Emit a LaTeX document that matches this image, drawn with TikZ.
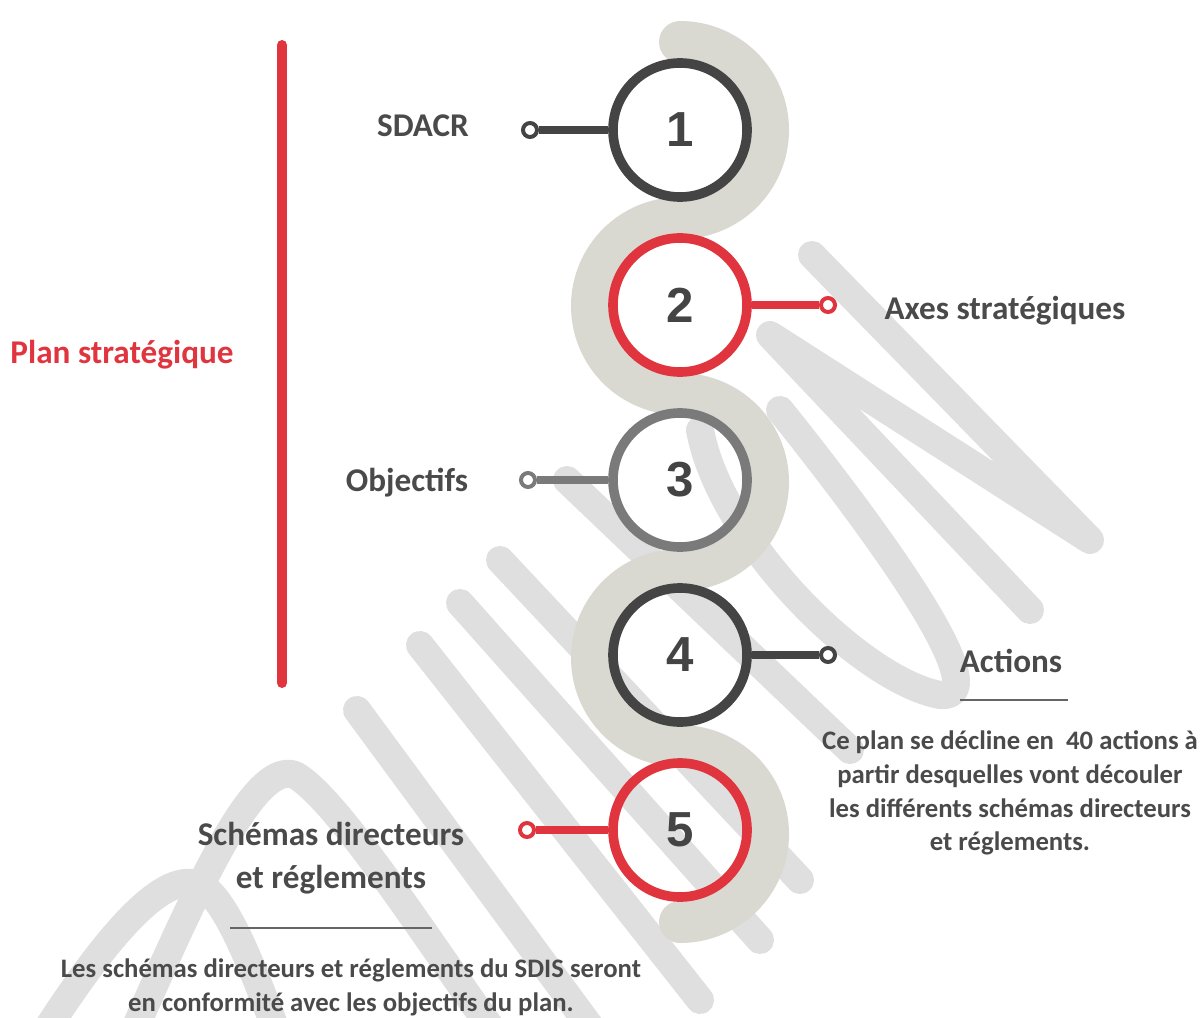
\documentclass[tikz,border=0pt]{standalone}
\usepackage{fontspec}
\setmainfont{Carlito}
\newfontfamily\numfont{Liberation Sans}
\usetikzlibrary{positioning}

\definecolor{planred}{HTML}{E0353E}
\definecolor{darkgrey}{HTML}{444444}
\definecolor{midgrey}{HTML}{7A7A7A}
\definecolor{textgrey}{HTML}{4A4A4A}
\definecolor{bandgrey}{HTML}{D9D9D2}
\definecolor{markgrey}{HTML}{DFDFDF}

\begin{document}
\begin{tikzpicture}[x=0.025cm, y=-0.025cm,
	ring/.style={circle, draw, line width=0.24cm, minimum size=3.35cm, inner sep=0pt,
		text=darkgrey, font=\numfont\bfseries\fontsize{35}{35}\selectfont},
	dot/.style={circle, draw, fill=white, line width=0.1cm, minimum size=0.35cm, inner sep=0pt},
	link/.style={line width=0.2cm},
	lbl/.style={text=textgrey, font=\bfseries\fontsize{23.6}{31}\selectfont, inner sep=0pt},
	note/.style={text=textgrey, font=\bfseries\fontsize{19}{24}\selectfont, align=center, inner sep=0pt},
	wmark/.style={markgrey, line width=0.7cm, line cap=round, line join=round},
	rule/.style={draw=textgrey!85, line width=0.05cm}]

	% ---- parameters

	\def\cx{680}
	\def\gap{175}
	\def\rad{88}

	\clip (0,0) rectangle (1203,1018);

	% ---- watermark

	\draw[wmark] (812,255) -- (1090,540) -- (770,335) -- (1030,610);
	\draw[wmark] (780,410) .. controls (900,560) and (995,700) .. (940,695)
		.. controls (860,680) and (720,540) .. (700,430);
	\draw[wmark] (567,480) -- (850,750);
	\draw[wmark] (500,560) -- (800,880);
	\draw[wmark] (460,603) -- (760,940);
	\draw[wmark] (420,645) -- (700,1000);
	\draw[wmark] (357,710) -- (600,1040);
	\draw[wmark] (130,1040) .. controls (200,880) and (255,760) .. (295,775)
		.. controls (340,800) and (440,960) .. (500,1040);
	\draw[wmark] (40,1040) .. controls (110,930) and (165,870) .. (200,885)
		.. controls (230,900) and (260,990) .. (280,1040);

	% ---- band

	\draw[bandgrey, line width=1.05cm, line cap=round]
		(\cx,130-\rad)
		arc[start angle=-90, end angle=90, radius=\rad]
		arc[start angle=-90, end angle=-270, radius=\rad]
		arc[start angle=-90, end angle=90, radius=\rad]
		arc[start angle=-90, end angle=-270, radius=\rad]
		arc[start angle=-90, end angle=90, radius=\rad];

	% ---- steps

	\foreach \n/\col in {1/darkgrey,2/planred,3/midgrey,4/darkgrey,5/planred} {
		\node[ring, draw=\col] (c\n) at (\cx,{130+\gap*(\n-1)}) {\n};
	}

	% ---- connectors

	\node[dot, draw=darkgrey] (d1) at (530,130) {};
	\node[dot, draw=planred] (d2) at (828,305) {};
	\node[dot, draw=midgrey] (d3) at (528,480) {};
	\node[dot, draw=darkgrey] (d4) at (828,655) {};
	\node[dot, draw=planred] (d5) at (527,830) {};

	\draw[link, darkgrey] (c1) -- (d1);
	\draw[link, planred] (c2) -- (d2);
	\draw[link, midgrey] (c3) -- (d3);
	\draw[link, darkgrey] (c4) -- (d4);
	\draw[link, planred] (c5) -- (d5);

	% ---- plan

	\draw[planred, line width=0.25cm, line cap=round] (282,45) -- (282,683);
	\node[lbl, text=planred, anchor=base] (plan) at (122,363) {Plan stratégique};

	% ---- labels

	\node[lbl, anchor=base] (sdacr) at (423,137) {SDACR};
	\node[lbl, anchor=base] (axes) at (1005,319) {Axes stratégiques};
	\node[lbl, anchor=base] (obj) at (407,491) {Objectifs};
	\node[lbl, anchor=base] (act) at (1011,672) {Actions};
	\node[lbl, align=center] (sch) at (331,858) {Schémas directeurs\\et réglements};

	\draw[rule] (960,700) -- (1068,700);
	\draw[rule] (230,928) -- (432,928);

	% ---- notes

	\node[note] (actnote) at (1010,793)
		{Ce plan se décline en \ 40 actions à\\partir desquelles vont découler\\les différents schémas directeurs\\et réglements.};
	\node[note] (schnote) at (351,987)
		{Les schémas directeurs et réglements du SDIS seront\\en conformité avec les objectifs du plan.};

\end{tikzpicture}
\end{document}
